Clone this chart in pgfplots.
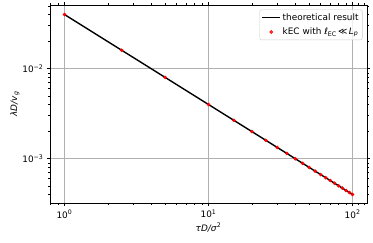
\documentclass[border=0pt]{standalone}
\usepackage{fontspec}
\setmainfont{DejaVu Sans}
\usepackage{pgfplots}
\pgfplotsset{compat=1.18}
\definecolor{gridgray}{HTML}{B0B0B0}
\definecolor{legframe}{HTML}{CCCCCC}
\newcommand{\tp}[1]{10\textsuperscript{#1}}
\pgfplotsset{
  lineleg/.style={legend image code/.code={\draw[##1] (0pt,0pt) -- (17.8pt,0pt);}},
  markleg/.style={legend image code/.code={\draw[mark repeat=2,mark phase=2,##1] plot coordinates {(0pt,0pt) (8.9pt,0pt) (17.8pt,0pt)};}},
}
\begin{document}
\begin{tikzpicture}
\begin{axis}[
  name=ax,
  at={(0,0)}, anchor=south west,
  scale only axis,
  width=317pt, height=198pt,
  xmode=log, ymode=log,
  xmin=0.7943, xmax=125.89,
  ymin=3.218e-4, ymax=0.05098,
  font=\fontsize{8.9}{10.7}\selectfont,
  axis line style={line width=0.7pt},
  tick align=outside,
  major tick length=3.1pt,
  minor tick length=1.8pt,
  every tick/.style={black, line width=0.7pt},
  every minor tick/.style={black, line width=0.5pt},
  xtick={1,10,100},
  xticklabels={\tp{0},\tp{1},\tp{2}},
  minor xtick={0.8,0.9,2,3,4,5,6,7,8,9,20,30,40,50,60,70,80,90,110,120},
  ytick={0.001,0.01},
  yticklabels={\tp{−3},\tp{−2}},
  minor ytick={0.0004,0.0005,0.0006,0.0007,0.0008,0.0009,0.002,0.003,0.004,0.005,0.006,0.007,0.008,0.009,0.02,0.03,0.04,0.05},
  xmajorgrids, ymajorgrids,
  major grid style={gridgray, line width=0.7pt},
  xlabel={\textit{τD/σ}\textsuperscript{2}},
  ylabel={\textit{λD/v}\textsubscript{\textit{g}}},
  xlabel style={yshift=2pt},
  ylabel style={yshift=-4pt},
  legend cell align=left,
  legend style={at={(1,1)}, anchor=north east, xshift=-4.5pt, yshift=-4.5pt,
    draw=legframe, rounded corners=2pt, fill=white, fill opacity=0.8, text opacity=1,
    inner xsep=2pt, inner ysep=2pt, row sep=2.5pt,
    font=\fontsize{8.9}{10.7}\selectfont,
    nodes={inner sep=1.8pt}},
]
\addplot[black, line width=1.4pt, lineleg]
  coordinates {(1,0.04) (100,0.0004)};
\addlegendentry{theoretical result}
\addplot[only marks, mark=*, mark size=1.6pt, red, mark options={solid, draw=red, fill=red, line width=0.4pt}, markleg]
  coordinates {
  (1,0.04) (2.5,0.016) (5,0.008) (10,0.004) (15,0.002667) (20,0.002)
  (25,0.0016) (30,0.001333) (35,0.001143) (40,0.001) (45,0.000889)
  (50,0.0008) (55,0.000727) (60,0.000667) (65,0.000615) (70,0.000571)
  (75,0.000533) (80,0.0005) (85,0.000471) (90,0.000444) (95,0.000421)
  (100,0.0004)};
\addlegendentry{kEC with \textit{ℓ}\textsubscript{EC}\,≪\,\textit{L}\textsubscript{\textit{p}}}
\end{axis}
\pgfresetboundingbox
\path ([xshift=-50pt,yshift=-39pt]ax.south west) rectangle ([xshift=6pt,yshift=5pt]ax.north east);
\end{tikzpicture}
\end{document}
